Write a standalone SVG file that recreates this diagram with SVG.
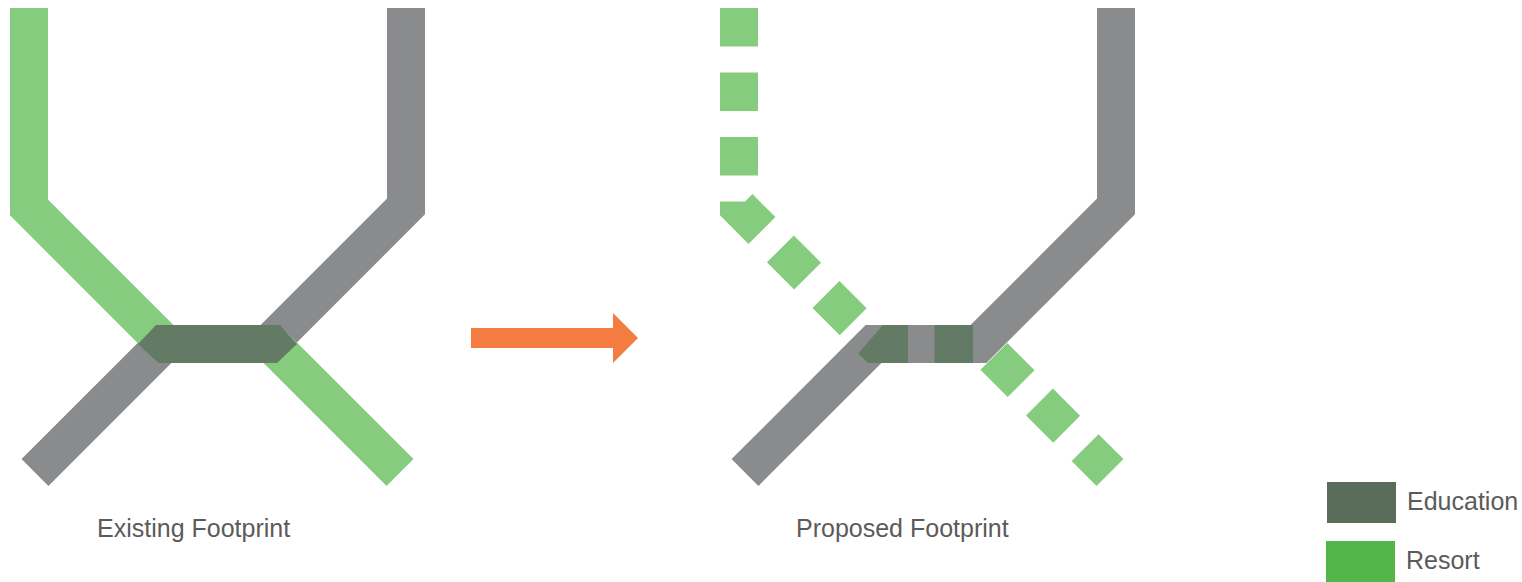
<svg xmlns="http://www.w3.org/2000/svg" width="1522" height="582" viewBox="0 0 1522 582">
  <style>
    .band { fill: none; stroke-width: 38; stroke-linejoin: miter; stroke-miterlimit: 10; stroke-linecap: butt; }
    .grey { stroke: #8a8b8d; }
    .resort { stroke: #86cc7e; }
    .dashed { stroke-dasharray: 38.5 26; }
    .edu { fill: #637b64; }
    .label { font-family: "Liberation Sans", Arial, sans-serif; font-size: 25px; fill: #5b5b5b; }
  </style>

  <!-- Existing footprint -->
  <g id="existing">
    <polyline class="band grey" points="406,8 406,206.5 268.5,344 163.5,344 35,472.5"/>
    <polyline class="band resort" points="29,8 29,207.5 165.5,344 271.5,344 400,472.5"/>
    <polygon class="edu" points="156,325 280,325 297,344 277,363 158,363 138,344"/>
    <text class="label" x="97" y="537">Existing Footprint</text>
  </g>

  <!-- Transition arrow -->
  <g id="arrow">
    <polygon fill="#f47c40" points="471,328 613,328 613,313 638,338 613,363 613,348 471,348"/>
  </g>

  <!-- Proposed footprint -->
  <g id="proposed">
    <polyline class="band grey" points="1116,8 1116,206.5 978.5,344 873.5,344 745,472.5"/>
    <polyline class="band resort dashed" points="739,8 739,207.5 856,324.5"/>
    <polyline class="band resort dashed" stroke-dashoffset="47" points="981.5,344 1110,472.5"/>
    <polygon class="edu" points="883,325 908,325 908,363 868,363 858.2,353.5"/>
    <rect class="edu" x="934.5" y="325" width="38.5" height="38"/>
    <text class="label" x="796" y="537">Proposed Footprint</text>
  </g>

  <!-- Legend -->
  <g id="legend-education">
    <rect x="1327" y="482" width="69" height="41" fill="#5a6d5b"/>
    <text class="label" x="1407" y="510">Education</text>
  </g>
  <g id="legend-resort">
    <rect x="1326" y="541" width="69" height="41" fill="#52b748"/>
    <text class="label" x="1406" y="569">Resort</text>
  </g>
</svg>
